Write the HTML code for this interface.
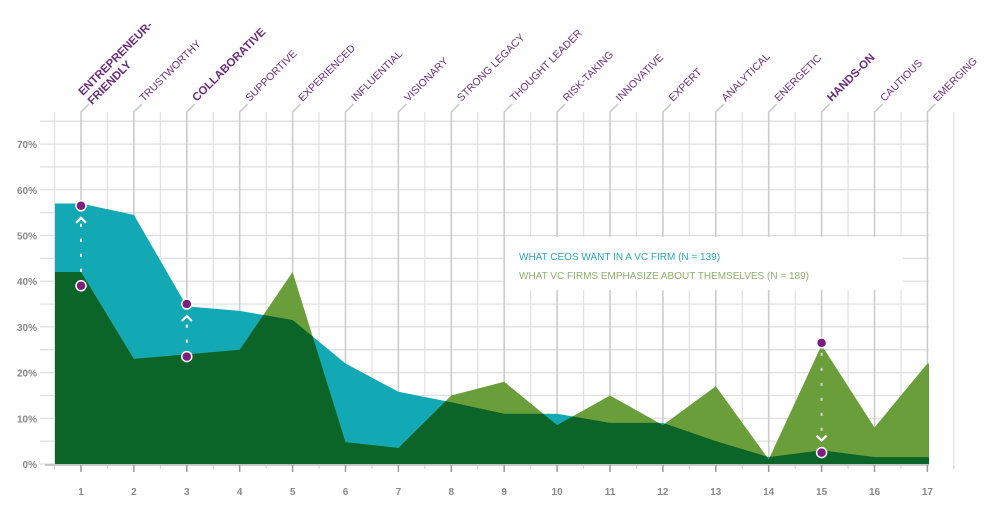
<!DOCTYPE html>
<html><head><meta charset="utf-8"><style>
body{margin:0;background:#fff;}
svg{display:block;font-family:"Liberation Sans",sans-serif;}
</style></head><body>
<svg id="chart" width="1005" height="507" viewBox="0 0 1005 507">
<g id="grid"></g>
<g id="areas"></g>
<g id="axes"></g>
<g id="marks"></g>
<g>
<rect x="505" y="237" width="398" height="53" fill="#fff"/>
<text x="519" y="260" font-size="10" fill="#2aa8b8">WHAT CEOS WANT IN A VC FIRM (N = 139)</text>
<text x="519" y="279" font-size="10" fill="#8fae6a">WHAT VC FIRMS EMPHASIZE ABOUT THEMSELVES (N = 189)</text>
</g>
</svg>
<script>
const categories=["ENTREPRENEUR-|FRIENDLY","TRUSTWORTHY","COLLABORATIVE","SUPPORTIVE","EXPERIENCED","INFLUENTIAL","VISIONARY","STRONG LEGACY","THOUGHT LEADER","RISK-TAKING","INNOVATIVE","EXPERT","ANALYTICAL","ENERGETIC","HANDS-ON","CAUTIOUS","EMERGING"];
const boldCats=[0,2,14];
const ceoValues=[57,54.5,34.5,33.5,31.5,22,15.8,13.5,11,11,9,9,5,1.5,3,1.5,1.5];
const vcValues=[42,23,24,25,42,4.8,3.5,15,18,8.5,15,8.5,17,1,26,8,22];
const yTicks=[0,10,20,30,40,50,60,70];
const highlights=[{i:0,from:39,to:56.5},{i:2,from:23.5,to:35},{i:14,from:26.5,to:2.5}];
const NS="http://www.w3.org/2000/svg";
const X0=81,DX=52.9,Y0=464,PY=4.57,LEFT=55,RIGHT=929;
const xs=i=>X0+i*DX, ys=v=>Y0-v*PY;
function mk(tag,attrs,parent){const e=document.createElementNS(NS,tag);for(const k in attrs)e.setAttribute(k,attrs[k]);parent.appendChild(e);return e;}
const grid=document.getElementById('grid'),areas=document.getElementById('areas'),axes=document.getElementById('axes'),marks=document.getElementById('marks');
// horizontal grid every 5%
for(let v=0;v<=75;v+=5){const l=mk('line',{x1:40,x2:RIGHT,y1:ys(v),y2:ys(v),stroke:'#ddd','stroke-width':1.2},grid);}
// minor verticals
for(let i=-0.5;i<=16.5;i+=1){const x=xs(i);if(x<LEFT-10)continue;const l=mk('line',{x1:x,x2:x,y1:112,y2:Y0,stroke:'#e0e0e0','stroke-width':1.2},grid);}
// major verticals with leaders and labels
categories.forEach((c,i)=>{const x=xs(i);
const l=mk('path',{d:`M${x} ${Y0}L${x} 112L${x+8} 104`,stroke:'#ccc','stroke-width':1.6,fill:'none'},grid);
const b=boldCats.includes(i);const parts=c.split('|');
const t=mk('text',{transform:`translate(${x+10},102) rotate(-45)`,'font-size':b?11.5:10.5,'font-weight':b?'bold':'normal',fill:'#6b2d7a'},grid);

parts.forEach((p,k)=>{const ts=mk('tspan',{x:k*-0,dy:k?13:0},t);ts.textContent=p;if(k){ts.setAttribute('x',0);ts.setAttribute('dx',(k*0));}});
if(parts.length>1){t.setAttribute('transform',`translate(${x+2},96) rotate(-45)`);}
});
function poly(vals){let pts=[[LEFT,ys(vals[0])]];vals.forEach((v,i)=>pts.push([xs(i),ys(v)]));pts.push([RIGHT,ys(vals[vals.length-1])]);pts.push([RIGHT,Y0],[LEFT,Y0]);return pts.map(p=>p.join(',')).join(' ');}
const defs=mk('defs',{},areas);const cp=mk('clipPath',{id:'ceoClip'},defs);mk('polygon',{points:poly(ceoValues)},cp);
const a1=mk('polygon',{points:poly(ceoValues),fill:'#12a9b4'},areas);
const a2=mk('polygon',{points:poly(vcValues),fill:'#6a9e3a'},areas);
const a3=mk('polygon',{points:poly(vcValues),fill:'#0b6428','clip-path':'url(#ceoClip)'},areas);
// axes
const base=mk('line',{x1:LEFT-10,x2:RIGHT,y1:Y0+1,y2:Y0+1,stroke:'#bbb','stroke-width':1.5},axes);
yTicks.forEach(v=>{const t=mk('text',{x:37,y:ys(v)+4,'text-anchor':'end','font-size':10,'font-weight':'bold',fill:'#888'},axes);t.textContent=v+'%';});
categories.forEach((c,i)=>{const x=xs(i);const tk=mk('line',{x1:x,x2:x,y1:Y0+1,y2:Y0+8,stroke:'#999','stroke-width':1.5},axes);
const t=mk('text',{x:x,y:495,'text-anchor':'middle','font-size':10,'font-weight':'bold',fill:'#888'},axes);t.textContent=i+1;});
for(let i=-0.5;i<=16.5;i+=1){const x=xs(i);const tk=mk('line',{x1:x,x2:x,y1:Y0+1,y2:Y0+5,stroke:'#ccc','stroke-width':1},axes);}
// highlight markers
highlights.forEach(h=>{const x=xs(h.i);const y1=ys(h.from),y2=ys(h.to);const up=y2<y1;
const col=up?'#ffffff':'#cfd8c0';
const ln=mk('line',{x1:x,x2:x,y1:y1+(up?-14:10),y2:y2+(up?18:-14),stroke:col,'stroke-width':2,'stroke-dasharray':'3 12'},marks);
const ay=y2+(up?12:-12);const ah=mk('path',{d:up?`M${x-5} ${ay+5}L${x} ${ay}L${x+5} ${ay+5}`:`M${x-5} ${ay-5}L${x} ${ay}L${x+5} ${ay-5}`,stroke:'#fff','stroke-width':2.2,fill:'none'},marks);
[h.from,h.to].forEach(v=>{const c=mk('circle',{cx:x,cy:ys(v),r:5,fill:'#7a1f7d',stroke:'#fff','stroke-width':1.5},marks);});});
</script>
</body></html>
